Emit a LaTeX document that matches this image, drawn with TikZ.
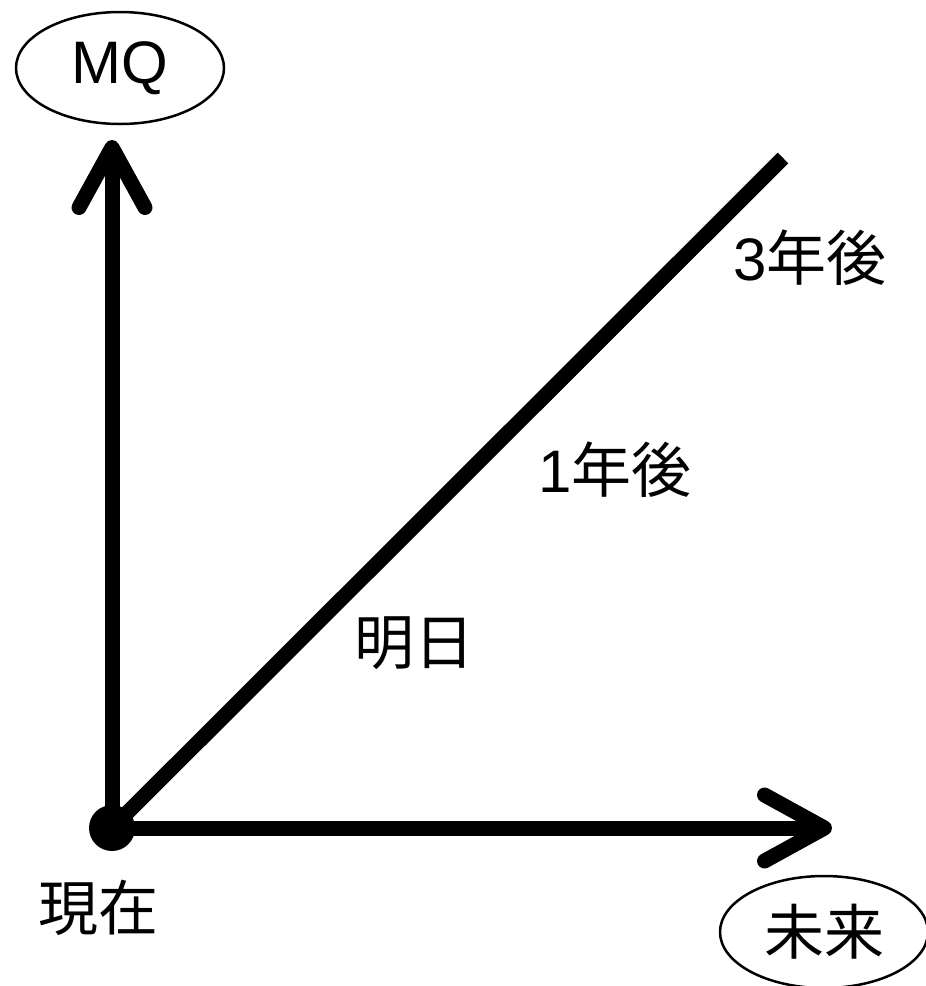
\documentclass[tikz,border=0pt]{standalone}
\usepackage{fontspec}
\setmainfont{Liberation Sans}
\newfontfamily\cjk{Noto Sans CJK JP}
\usetikzlibrary{shapes.geometric,arrows.meta}
\begin{document}
\begin{tikzpicture}[x=1pt,y=-1pt,
  axisline/.style={line width=15pt,-{Straight Barb[length=60pt,width=66pt,round]}},
  diagline/.style={line width=15pt,line cap=butt},
  oval/.style={draw,ellipse,line width=2.5pt,inner sep=0pt,minimum width=208pt,minimum height=112pt,font=\fontsize{60}{62}\selectfont},
  lbl/.style={inner sep=0pt,font=\fontsize{60}{62}\selectfont}]
\useasboundingbox (0,0) rectangle (926,986);
\node[circle,fill,inner sep=0pt,minimum size=46pt] (O) at (112,828) {};
\coordinate (Ytip) at (112,140);
\coordinate (Xtip) at (832,828);
\coordinate (D) at (783,158);
\draw[axisline] (O.center) -- (Ytip);
\draw[axisline] (O.center) -- (Xtip);
\draw[diagline] (O.center) -- (D);
\node[oval] (MQ) at (120,68) {MQ};
\node[oval] (FUT) at (824,932) {\cjk 未来};
\node[lbl] (now) at (98,908) {\cjk 現在};
\node[lbl] (y3) at (810,258) {3\cjk 年後};
\node[lbl] (y1) at (615,470) {1\cjk 年後};
\node[lbl] (tmr) at (414,643) {\cjk 明日};
\end{tikzpicture}
\end{document}
